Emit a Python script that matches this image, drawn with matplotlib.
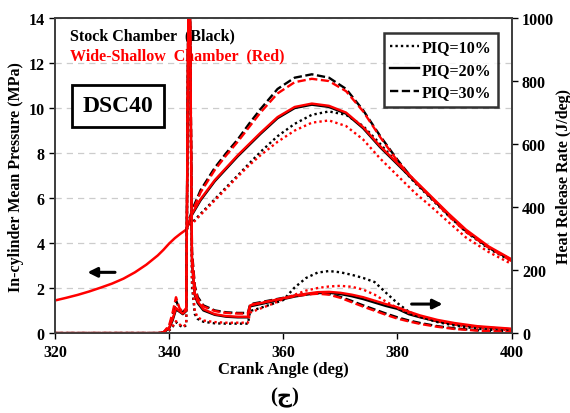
import matplotlib
matplotlib.use("Agg")
import matplotlib.pyplot as plt

plt.rcParams['font.family'] = ['Liberation Serif', 'DejaVu Sans']
plt.rcParams['font.weight'] = 'bold'

# pressure (MPa), compression part shared by all cases
ca_comp = [320, 322, 324, 326, 328, 330, 332, 334, 336, 338, 339, 340, 341, 342, 343]
p_comp = [1.45, 1.57, 1.7, 1.85, 2.02, 2.2, 2.42, 2.7, 3.04, 3.45, 3.7, 3.98, 4.22, 4.42, 4.6]

ca_comb = [343, 344, 345.5, 348, 350, 352, 354, 356, 359, 362, 365, 368, 371, 374, 377, 380, 383, 386, 389, 392, 396, 400]
p_stock_10 = [4.6, 4.9, 5.3, 5.95, 6.48, 7.0, 7.53, 8.05, 8.75, 9.3, 9.7, 9.85, 9.7, 9.2, 8.4, 7.55, 6.7, 5.95, 5.2, 4.5, 3.75, 3.2]
p_stock_20 = [4.6, 5.25, 5.9, 6.75, 7.3, 7.85, 8.35, 8.85, 9.55, 10.0, 10.15, 10.05, 9.75, 9.1, 8.25, 7.5, 6.75, 6.0, 5.25, 4.55, 3.8, 3.25]
p_stock_30 = [4.6, 5.45, 6.35, 7.35, 8.0, 8.6, 9.3, 9.95, 10.85, 11.35, 11.5, 11.35, 10.85, 9.9, 8.75, 7.7, 6.75, 6.0, 5.25, 4.55, 3.8, 3.25]
p_ws_10 = [4.6, 4.85, 5.25, 5.9, 6.42, 6.95, 7.45, 7.9, 8.5, 9.0, 9.35, 9.45, 9.2, 8.6, 7.75, 7.0, 6.25, 5.6, 4.92, 4.25, 3.6, 3.07]
p_ws_20 = [4.6, 5.3, 5.95, 6.8, 7.35, 7.9, 8.4, 8.9, 9.6, 10.05, 10.2, 10.1, 9.8, 9.15, 8.3, 7.55, 6.8, 6.05, 5.3, 4.6, 3.85, 3.28]
p_ws_30 = [4.6, 5.35, 6.25, 7.25, 7.9, 8.5, 9.15, 9.8, 10.65, 11.15, 11.3, 11.2, 10.75, 9.85, 8.7, 7.65, 6.75, 6.0, 5.2, 4.5, 3.8, 3.2]

# heat release rate (J/deg)
hrr_ca = [320, 338, 339, 340, 340.6, 341.2, 341.8, 342.4, 343.0, 343.5, 344.0, 344.5, 345, 346, 348, 350, 352,
          353.8, 354.2, 356, 358, 360, 362, 364, 366, 368, 370, 372, 374, 376, 378, 380, 382, 384, 387, 390, 394, 400]
hrr_stock_10 = [0, 0, 1, 8, 20, 35, 25, 18, 25, 1400, 150, 60, 45, 36, 31, 30, 30,
                30, 70, 80, 92, 105, 145, 175, 192, 197, 193, 185, 175, 162, 128, 95, 68, 52, 35, 24, 14, 5]
hrr_stock_20 = [0, 0, 2, 15, 40, 75, 68, 60, 70, 1400, 220, 120, 95, 72, 58, 52, 50,
                50, 85, 92, 100, 108, 116, 122, 127, 128, 124, 117, 108, 97, 86, 77, 60, 50, 37, 28, 20, 12]
hrr_stock_30 = [0, 0, 2, 20, 55, 105, 75, 65, 80, 1400, 260, 150, 115, 88, 72, 66, 64,
                64, 92, 98, 105, 112, 119, 124, 127, 124, 115, 102, 88, 75, 62, 50, 40, 32, 22, 15, 9, 4]
hrr_ws_10 = [0, 0, 1, 10, 22, 38, 28, 20, 28, 1400, 170, 70, 50, 40, 35, 33, 33,
             33, 65, 78, 92, 108, 122, 135, 143, 148, 150, 147, 138, 122, 100, 80, 64, 52, 38, 27, 17, 8]
hrr_ws_20 = [0, 0, 2, 18, 45, 80, 70, 62, 72, 1400, 230, 125, 100, 76, 60, 54, 52,
             52, 88, 95, 103, 111, 119, 125, 130, 131, 128, 122, 114, 103, 92, 82, 68, 56, 42, 32, 22, 14]
hrr_ws_30 = [0, 0, 2, 25, 65, 114, 80, 66, 80, 1400, 250, 145, 110, 85, 70, 64, 62,
             62, 90, 96, 103, 110, 117, 122, 125, 122, 112, 98, 84, 71, 58, 46, 37, 29, 20, 13, 8, 3]

piq_labels = ['PIQ=10%', 'PIQ=20%', 'PIQ=30%']
styles = [(0, (1, 1.3)), '-', (0, (3.5, 1.5))]

fig = plt.figure(figsize=(5.7, 4.14), dpi=100)
ax1 = fig.add_axes([0.0965, 0.193, 0.801, 0.761])
ax2 = ax1.twinx()

stock_p = [p_stock_10, p_stock_20, p_stock_30]
ws_p = [p_ws_10, p_ws_20, p_ws_30]
stock_h = [hrr_stock_10, hrr_stock_20, hrr_stock_30]
ws_h = [hrr_ws_10, hrr_ws_20, hrr_ws_30]

for i in range(3):
    ax1.plot(ca_comb, stock_p[i], color='black', ls=styles[i], lw=1.7)
    ax2.plot(hrr_ca, stock_h[i], color='black', ls=styles[i], lw=1.7)
for i in range(3):
    ax1.plot(ca_comb, ws_p[i], color='red', ls=styles[i], lw=1.7)
    ax2.plot(hrr_ca, ws_h[i], color='red', ls=styles[i], lw=1.7)
ax1.plot(ca_comp, p_comp, color='red', lw=1.8)

ax1.set_xlim(320, 400)
ax1.set_ylim(0, 14)
ax2.set_ylim(0, 1000)
ax1.set_xticks([320, 340, 360, 380, 400])
ax1.set_yticks(range(0, 15, 2))
ax2.set_yticks(range(0, 1001, 200))
ax1.yaxis.grid(True, color='#cccccc', ls=(0, (5, 4)), lw=0.9)
ax1.set_axisbelow(True)

for a in (ax1, ax2):
    a.tick_params(labelsize=11.5, direction='out', length=4, width=1, colors='black')
    for s in a.spines.values():
        s.set_color('#404040')
        s.set_linewidth(1.3)
for lab in ax1.get_xticklabels() + ax1.get_yticklabels() + ax2.get_yticklabels():
    lab.set_fontweight('bold')

ax1.set_xlabel('Crank Angle (deg)', fontsize=12, fontweight='bold', labelpad=1)
ax1.set_ylabel('In-cylinder Mean Pressure (MPa)', fontsize=11.5, fontweight='bold', labelpad=3)
ax2.set_ylabel('Heat Release Rate (J/deg)', fontsize=11.5, fontweight='bold', labelpad=1)

ax1.text(0.033, 0.946, 'Stock Chamber  (Black)', transform=ax1.transAxes, fontsize=11.5,
         fontweight='bold', va='center')
ax1.text(0.033, 0.883, 'Wide-Shallow  Chamber  (Red)', transform=ax1.transAxes, fontsize=11.5,
         fontweight='bold', color='red', va='center')
ax1.text(0.138, 0.722, 'DSC40', transform=ax1.transAxes, fontsize=17, fontweight='bold',
         ha='center', va='center',
         bbox=dict(boxstyle='square,pad=0.45', fc='white', ec='black', lw=2))

ax1.annotate('', xy=(325.2, 2.7), xytext=(331, 2.7),
             arrowprops=dict(arrowstyle='-|>', color='black', lw=2.2, mutation_scale=14))
ax1.annotate('', xy=(388.4, 1.29), xytext=(382, 1.29),
             arrowprops=dict(arrowstyle='-|>', color='black', lw=2.2, mutation_scale=14))

handles = [plt.Line2D([], [], color='black', ls=styles[i], lw=1.7) for i in range(3)]
leg = ax2.legend(handles, piq_labels, loc='upper right', frameon=True,
                 fancybox=False, handlelength=1.8, handletextpad=0.2, borderpad=0.4,
                 labelspacing=0.4, prop={'weight': 'bold', 'size': 11.5}, bbox_to_anchor=(0.988, 0.978))
leg.get_frame().set_edgecolor('black')
leg.get_frame().set_linewidth(1.8)

fig.text(0.5, 0.038, '(ج)', ha='center', va='center', fontsize=15, fontweight='bold',
         family=['Liberation Serif', 'DejaVu Sans'])

fig.savefig('out.png', dpi=100)
